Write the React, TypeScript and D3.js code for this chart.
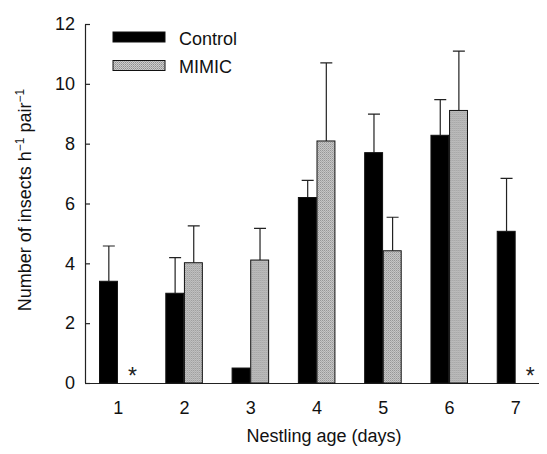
import { useEffect, useRef } from "react";
import * as d3 from "d3";

// Nestling age (days)
const days = ["1", "2", "3", "4", "5", "6", "7"];
const series = ["Control", "MIMIC"];

// mean and SE; null = no data (asterisk)
const controlMean = [3.4, 3.0, 0.5, 6.2, 7.7, 8.28, 5.07];
const controlErr = [1.18, 1.19, 0, 0.57, 1.29, 1.19, 1.77];
const mimicMean = [null, 4.02, 4.11, 8.09, 4.42, 9.11, null];
const mimicErr = [null, 1.23, 1.06, 2.61, 1.12, 1.98, null];

const yTicks = [0, 2, 4, 6, 8, 10, 12];

const App = () => {
  const svgRef = useRef<SVGSVGElement | null>(null);

  useEffect(() => {
    const width = 547;
    const height = 454;
    const margin = { top: 24, right: -2, bottom: 71, left: 85 };
    const innerWidth = width - margin.left - margin.right;
    const innerHeight = height - margin.top - margin.bottom;
    const font = "Arial, 'Liberation Sans', sans-serif";
    const fs = "18px";

    d3.select(svgRef.current).selectAll("*").remove();

    const svg = d3
      .select(svgRef.current)
      .attr("width", width)
      .attr("height", height)
      .style("display", "block")
      .style("background", "white");

    // stippled grey fill for the MIMIC bars
    const pat = svg
      .append("defs")
      .append("pattern")
      .attr("id", "stipple")
      .attr("width", 2)
      .attr("height", 2)
      .attr("patternUnits", "userSpaceOnUse");
    pat.append("rect").attr("width", 2).attr("height", 2).attr("fill", "#cdcdcd");
    pat.append("rect").attr("width", 1).attr("height", 1).attr("fill", "#8e8e8e");
    pat.append("rect").attr("x", 1).attr("y", 1).attr("width", 1).attr("height", 1).attr("fill", "#a6a6a6");

    const g = svg
      .append("g")
      .attr("transform", `translate(${margin.left},${margin.top})`);

    const x0 = d3.scaleBand().domain(days).range([0, innerWidth]).padding(0);
    const x1 = d3
      .scaleBand()
      .domain(series)
      .range([0, x0.bandwidth()])
      .paddingInner(0)
      .paddingOuter(0.78);
    const y = d3.scaleLinear().domain([0, 12]).range([innerHeight, 0]);

    const rows = days.map((d, i) => ({
      day: d,
      vals: [
        { key: "Control", mean: controlMean[i], err: controlErr[i] },
        { key: "MIMIC", mean: mimicMean[i], err: mimicErr[i] },
      ],
    }));

    // y axis, ticks pointing inward
    const yAxis = g
      .append("g")
      .call(d3.axisRight(y).tickValues(yTicks).tickSize(5).tickFormat(d3.format("d")));
    yAxis.select(".domain").attr("stroke", "#222").attr("stroke-width", 1.2).attr("d", `M0.5,${innerHeight}V0.5`);
    yAxis.selectAll(".tick line").attr("stroke", "#222").attr("stroke-width", 1.2);
    yAxis
      .selectAll(".tick text")
      .attr("x", -10)
      .attr("text-anchor", "end")
      .style("font-family", font)
      .style("font-size", fs)
      .style("fill", "#111");

    // x axis, no tick marks
    const xAxis = g
      .append("g")
      .attr("transform", `translate(0,${innerHeight})`)
      .call(d3.axisBottom(x0).tickSize(0).tickPadding(18));
    xAxis.select(".domain").attr("stroke", "#222").attr("stroke-width", 1.2);
    xAxis
      .selectAll(".tick text")
      .style("font-family", font)
      .style("font-size", fs)
      .style("fill", "#111");

    const groups = g
      .selectAll(".grp")
      .data(rows)
      .enter()
      .append("g")
      .attr("class", "grp")
      .attr("transform", (d) => `translate(${x0(d.day)},0)`);

    const bars = groups
      .selectAll(".bar")
      .data((d) => d.vals.filter((v) => v.mean !== null))
      .enter();

    // error bars (upper half only)
    bars
      .filter((v) => (v.err as number) > 0)
      .append("path")
      .attr("d", (v) => {
        const cx = (x1(v.key) as number) + x1.bandwidth() / 2;
        const top = y((v.mean as number) + (v.err as number));
        return `M${cx},${y(v.mean as number)}V${top}M${cx - 6},${top}H${cx + 6}`;
      })
      .attr("fill", "none")
      .attr("stroke", "#222")
      .attr("stroke-width", 1.2);

    bars
      .append("rect")
      .attr("x", (v) => x1(v.key) as number)
      .attr("y", (v) => y(v.mean as number))
      .attr("width", x1.bandwidth() - 0.7)
      .attr("height", (v) => innerHeight - y(v.mean as number))
      .attr("fill", (v) => (v.key === "Control" ? "#000" : "url(#stipple)"))
      .attr("stroke", "#111")
      .attr("stroke-width", 1);

    // asterisks where MIMIC has no data
    groups
      .filter((d) => d.vals[1].mean === null)
      .append("text")
      .attr("x", (x1("MIMIC") as number) + x1.bandwidth() / 2 + 5)
      .attr("y", innerHeight + 1)
      .attr("text-anchor", "middle")
      .style("font-family", font)
      .style("font-size", "23px")
      .style("fill", "#222")
      .text("*");

    // legend
    const legend = g.append("g").attr("transform", "translate(28,8)");
    series.forEach((s, i) => {
      legend
        .append("rect")
        .attr("x", 0)
        .attr("y", i * 28.5)
        .attr("width", 52)
        .attr("height", 10)
        .attr("fill", i === 0 ? "#000" : "url(#stipple)")
        .attr("stroke", "#111")
        .attr("stroke-width", 1);
      legend
        .append("text")
        .attr("x", 66)
        .attr("y", i * 28.5 + 12.5)
        .style("font-family", font)
        .style("font-size", fs)
        .style("fill", "#111")
        .text(s);
    });

    // axis labels
    svg
      .append("text")
      .attr("x", 324)
      .attr("y", 442)
      .attr("text-anchor", "middle")
      .style("font-family", font)
      .style("font-size", fs)
      .style("fill", "#111")
      .text("Nestling age (days)");

    const yl = svg
      .append("text")
      .attr("transform", "translate(31,200) rotate(-90)")
      .attr("text-anchor", "middle")
      .style("font-family", font)
      .style("font-size", fs)
      .style("fill", "#111");
    yl.append("tspan").text("Number of insects h");
    yl.append("tspan").attr("dy", -7).style("font-size", "12px").text("\u22121");
    yl.append("tspan").attr("dy", 7).text(" pair");
    yl.append("tspan").attr("dy", -7).style("font-size", "12px").text("\u22121");
  }, []);

  return (
    <div style={{ margin: -8 }}>
      <svg ref={svgRef}></svg>
    </div>
  );
};

export default App;
